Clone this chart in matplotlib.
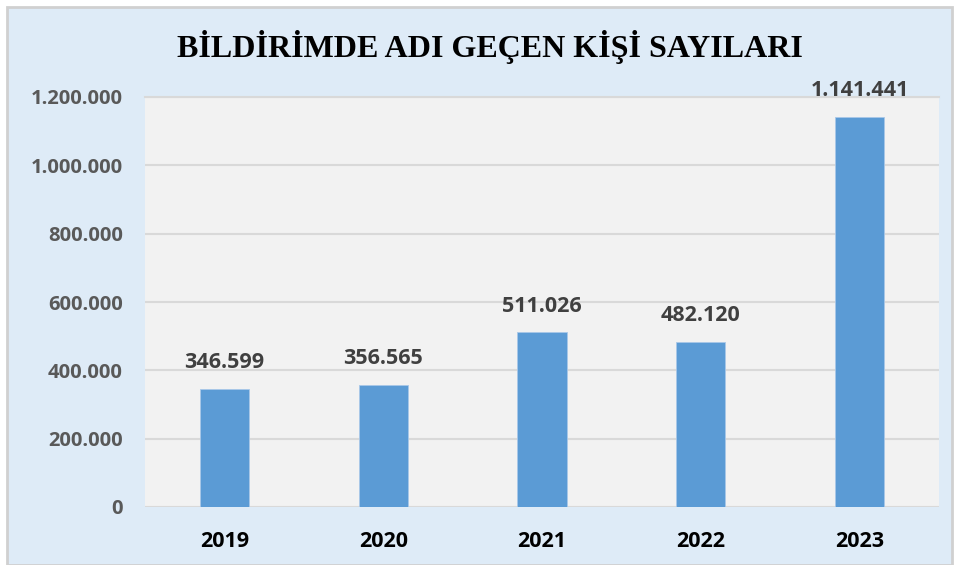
import matplotlib.pyplot as plt
from matplotlib.patches import Rectangle
from matplotlib.ticker import FuncFormatter

# Chart data
years = ['2019', '2020', '2021', '2022', '2023']
people = [346599, 356565, 511026, 482120, 1141441]
y_ticks = [0, 200000, 400000, 600000, 800000, 1000000, 1200000]


def tr_format(v, pos=None):
    # Turkish thousands separator
    return '{:,.0f}'.format(v).replace(',', '.')


fig = plt.figure(figsize=(9.56, 5.65), dpi=100, facecolor='white')

# Outer light-blue chart area with thin gray border
bg = Rectangle((7 / 956, 0), 945 / 956, 558 / 565, transform=fig.transFigure,
               facecolor='#deebf7', edgecolor='#d0d0d0', linewidth=2, zorder=-10)
fig.patches.append(bg)

ax = fig.add_axes([145 / 956, 1 - 507 / 565, 794 / 956, 410 / 565])
ax.set_zorder(1)
ax.set_facecolor('#f2f2f2')

x = range(len(years))
ax.bar(x, people, width=0.31, color='#5b9bd5', edgecolor='#a9c8e8', linewidth=0.6, zorder=3)

for xi, v in zip(x, people):
    ax.annotate(tr_format(v), (xi, v), xytext=(0, 19), textcoords='offset points',
                ha='center', va='center', fontsize=15.5, fontweight='bold',
                color='#404040', family='Open Sans', annotation_clip=False)

ax.set_ylim(0, 1200000)
ax.set_xlim(-0.5, len(years) - 0.5)
ax.set_yticks(y_ticks)
ax.yaxis.set_major_formatter(FuncFormatter(tr_format))
ax.set_xticks(list(x))
ax.set_xticklabels(years)
ax.grid(axis='y', color='#d9d9d9', linewidth=1.5, zorder=0)
ax.set_axisbelow(True)

for side in ['left', 'right', 'bottom']:
    ax.spines[side].set_visible(False)
ax.spines['top'].set_color('#d9d9d9')
ax.spines['top'].set_linewidth(1.5)

ax.tick_params(axis='both', length=0)
ax.tick_params(axis='y', pad=16)
ax.tick_params(axis='x', pad=17)
for lbl in ax.get_yticklabels():
    lbl.set_fontsize(14.5)
    lbl.set_fontweight('bold')
    lbl.set_color('#595959')
    lbl.set_family('Open Sans')
for lbl in ax.get_xticklabels():
    lbl.set_fontsize(15.5)
    lbl.set_fontweight('bold')
    lbl.set_color('black')
    lbl.set_family('Open Sans')

fig.text(490 / 956, 1 - 47 / 565, 'BİLDİRİMDE ADI GEÇEN KİŞİ SAYILARI',
         ha='center', va='center', fontsize=23, fontweight='bold',
         family='Liberation Serif', color='black')

fig.savefig('out.png', dpi=100, facecolor='white')
